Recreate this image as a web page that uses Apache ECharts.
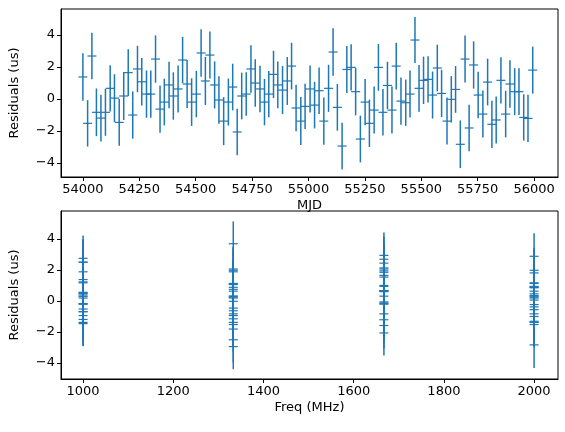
<!DOCTYPE html>
<html><head><meta charset="utf-8">
<script src="https://cdn.jsdelivr.net/npm/echarts@6/dist/echarts.min.js"></script>
<style>html,body{margin:0;padding:0;background:#fff}#c{width:565px;height:432px}</style>
</head><body><div id="c"></div>
<script>
const mjd = [54000,54021,54040,54060,54080,54100,54121,54140,54161,54181,54201,54221,54242,54261,54282,54301,54322,54342,54361,54382,54401,54422,54442,54462,54482,54503,54524,54543,54563,54584,54603,54624,54645,54664,54684,54704,54724,54745,54764,54785,54805,54824,54845,54864,54885,54906,54925,54945,54966,54985,
55007,55027,55047,55068,55089,55109,55128,55149,55170,55189,55209,55230,55251,55270,55291,55310,55330,55350,55370,55389,55410,55431,55450,55472,55490,55510,55530,55550,55571,55590,55614,55633,55652,55673,55694,55712,55732,55752,55773,55794,55813,55832,55853,55874,55893,55914,55933,55954,55973,55994];
const residuals = [1.38,-1.52,2.69,-0.83,-1.19,-0.83,0.67,0.06,-1.46,0.19,1.65,-1.0,1.88,1.08,0.31,0.31,2.5,-0.63,-0.19,0.88,0.19,0.63,2.44,0.94,-0.19,0.31,2.88,1.13,2.75,0.88,-0.06,-1.38,-0.19,0.75,-2.06,0.19,0.31,1.88,1.0,0.63,-0.19,0.31,1.54,0.88,0.56,1.13,2.06,-0.56,-1.38,-0.46,
0.63,-0.38,0.52,-1.38,0.67,2.94,-0.52,-2.94,1.85,1.98,0.46,-2.5,-0.19,-1.52,-0.69,1.98,-0.83,0.85,-0.69,2.06,-0.13,-0.23,0.31,3.69,0.67,1.17,1.23,0.25,1.94,0.35,-1.38,-0.02,0.6,-2.83,2.5,-1.81,2.13,0.25,-0.94,1.06,-1.58,-1.31,1.17,-0.94,0.94,0.46,0.46,-1.15,-1.21,1.81];
const errors = [1.48,1.45,1.46,1.49,1.46,1.47,1.45,1.49,1.46,1.5,1.46,1.48,1.45,1.49,1.48,1.48,1.48,1.48,1.46,1.45,1.48,1.47,1.45,1.5,1.49,1.45,1.48,1.5,1.47,1.47,1.48,1.5,1.47,1.46,1.46,1.46,1.36,1.48,1.49,1.45,1.45,1.45,1.48,1.46,1.5,1.5,1.46,1.46,1.5,1.41,
1.47,1.46,1.45,1.48,1.47,1.48,1.46,1.46,1.47,1.45,1.48,1.46,1.45,1.48,1.47,1.46,1.45,1.48,1.47,1.46,1.48,1.45,1.47,1.44,1.46,1.48,1.45,1.47,1.46,1.48,1.47,1.45,1.46,1.49,1.47,1.46,1.48,1.45,1.47,1.46,1.48,1.47,1.45,1.46,1.48,1.47,1.46,1.45,1.48,1.47];
const freqCycle = [1000,1333,1667,2000];
const freqOverride = {26:2000, 55:1667, 80:2000};
const freqs = residuals.map((v,i)=> freqOverride[i] !== undefined ? freqOverride[i] : freqCycle[i%4]);
const mjdTicks = [54000,54250,54500,54750,55000,55250,55500,55750,56000];
const resTicksTop = [-4,-2,0,2,4];
const freqTicks = [1000,1200,1400,1600,1800,2000];
const resTicksBot = [-4,-2,0,2,4];

const C = '#1f77b4';
const font = {fontFamily:'DejaVu Sans', fontSize:13, color:'#000'};
const fmt = v => String(v).replace('-', '\u2212');
function render(params, api){
  const x=api.value(0), y=api.value(1), e=api.value(2);
  const p=api.coord([x,y]), t=api.coord([x,y+e]), b=api.coord([x,y-e]);
  return {type:'group', children:[
    {type:'line', shape:{x1:p[0],y1:t[1],x2:p[0],y2:b[1]}, style:{stroke:C,lineWidth:1.5}},
    {type:'line', shape:{x1:p[0]-4.5,y1:p[1],x2:p[0]+4.5,y2:p[1]}, style:{stroke:C,lineWidth:1.2}}
  ]};
}
function xAxis(idx,min,max,ticks,name,gap){
  return {gridIndex:idx,type:'value',min,max,name,nameLocation:'middle',nameGap:gap,nameTextStyle:font,
    axisLine:{onZero:false,lineStyle:{color:'#000',width:1}},splitLine:{show:false},
    axisTick:{customValues:ticks,length:4,lineStyle:{color:'#000'}},
    axisLabel:Object.assign({customValues:ticks,margin:6,formatter:fmt},font)};
}
function yAxis(idx,min,max,ticks){
  return {gridIndex:idx,type:'value',min,max,name:'Residuals (us)',nameLocation:'middle',nameGap:40,nameTextStyle:font,
    axisLine:{show:true,onZero:false,lineStyle:{color:'#000',width:1}},splitLine:{show:false},
    axisTick:{show:true,customValues:ticks,length:4,lineStyle:{color:'#000'}},
    axisLabel:Object.assign({customValues:ticks,margin:6,formatter:fmt},font)};
}
const chart = echarts.init(document.getElementById('c'));
chart.setOption({
  animation:false,
  grid:[{left:60,right:7,top:9,height:168,show:true,borderColor:'#000',borderWidth:1},
        {left:60,right:7,top:211,height:168,show:true,borderColor:'#000',borderWidth:1}],
  xAxis:[xAxis(0,53903,56106,mjdTicks,'MJD',22), xAxis(1,951,2053,freqTicks,'Freq (MHz)',22)],
  yAxis:[yAxis(0,-4.875,5.63,resTicksTop), yAxis(1,-5.03,5.8,resTicksBot)],
  series:[
    {type:'custom',xAxisIndex:0,yAxisIndex:0,renderItem:render,data:mjd.map((m,i)=>[m,residuals[i],errors[i]])},
    {type:'custom',xAxisIndex:1,yAxisIndex:1,renderItem:render,data:freqs.map((f,i)=>[f,residuals[i],errors[i]])}
  ]
});
</script></body></html>
